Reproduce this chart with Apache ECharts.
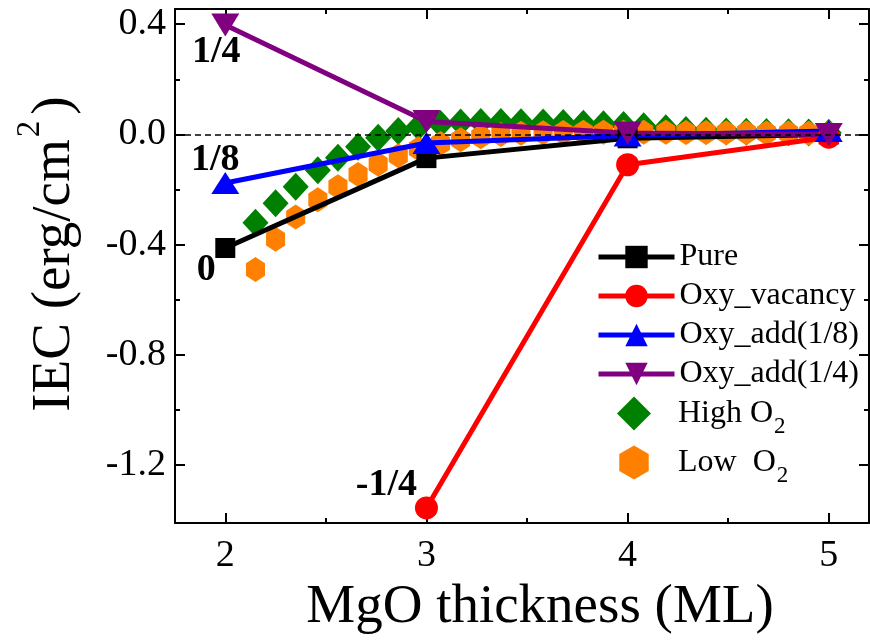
<!DOCTYPE html>
<html><head><meta charset="utf-8">
<script src="https://cdn.jsdelivr.net/npm/echarts@6/dist/echarts.min.js"></script>
<style>html,body{margin:0;padding:0;background:#fff}#c{width:870px;height:640px}</style>
</head><body><div id="c"></div>
<script>
// ---- data ----
const thickness = [2, 3, 4, 5];
const pure = [-0.412, -0.086, -0.014, 0.0];
const vacancyX = [3, 4, 5];
const vacancy = [-1.355, -0.110, -0.010];
const add18 = [-0.176, -0.031, -0.004, 0.012];
const add14 = [0.397, 0.047, 0.005, 0.0];
const scatterX = [2.15, 2.25, 2.35, 2.46, 2.56, 2.66, 2.76, 2.86, 2.96, 3.07, 3.17, 3.27, 3.37, 3.47, 3.58,
  3.68, 3.78, 3.88, 3.98, 4.08, 4.19, 4.29, 4.39, 4.49, 4.59, 4.69, 4.80, 4.90, 5.00];
const highO2 = [-0.32, -0.25, -0.19, -0.13, -0.085, -0.045, -0.012, 0.012, 0.028, 0.038, 0.043, 0.045, 0.045,
  0.044, 0.043, 0.041, 0.039, 0.037, 0.034, 0.030, 0.022, 0.016, 0.013, 0.011, 0.010, 0.009, 0.008, 0.007, 0.006];
const lowO2 = [-0.49, -0.38, -0.30, -0.237, -0.19, -0.145, -0.108, -0.077, -0.052, -0.033, -0.019, -0.008, 0.0,
  0.004, 0.006, 0.007, 0.008, 0.008, 0.008, 0.008, 0.008, 0.007, 0.007, 0.006, 0.006, 0.005, 0.005, 0.004, 0.004];
const xTicks = [2, 3, 4, 5];
const xMinorTicks = [2.5, 3.5, 4.5];
const yTicks = [-1.2, -0.8, -0.4, 0, 0.4];
const yMinorTicks = [-1.0, -0.6, -0.2, 0.2];
const seriesNames = ['Pure', 'Oxy_vacancy', 'Oxy_add(1/8)', 'Oxy_add(1/4)', 'High O2', 'Low O2'];
const pointLabels = { pure: '0', vacancy: '-1/4', add18: '1/8', add14: '1/4' };

// ---- chart ----
const FF = 'Liberation Serif';
const chart = echarts.init(document.getElementById('c'), null, { renderer: 'canvas' });
const X_MIN = 1.75, X_MAX = 5.2, Y_MIN = -1.41, Y_MAX = 0.455;
const lineCol = '#000';

function xAxis(pos, ticks, len, showLine, labels) {
  const a = {
    type: 'value', position: pos, min: X_MIN, max: X_MAX, gridIndex: 0,
    splitLine: { show: false },
    axisLine: { show: showLine, onZero: false, lineStyle: { color: lineCol, width: 2 } },
    axisTick: { show: true, inside: true, length: len, customValues: ticks, lineStyle: { color: lineCol, width: 2 } },
    axisLabel: { show: false }
  };
  if (labels) {
    a.axisLabel = { show: true, customValues: xTicks, fontFamily: FF, fontSize: 38, color: '#000', margin: 14 };
    a.name = 'MgO thickness (ML)';
    a.nameLocation = 'middle';
    a.nameGap = 54;
    a.nameTextStyle = { fontFamily: FF, fontSize: 55, color: '#000', padding: [0, 0, 0, 36] };
  }
  return a;
}
function yAxis(pos, ticks, len, showLine, labels) {
  const a = {
    type: 'value', position: pos, min: Y_MIN, max: Y_MAX, gridIndex: 0,
    splitLine: { show: false },
    axisLine: { show: showLine, onZero: false, lineStyle: { color: lineCol, width: 2 } },
    axisTick: { show: true, inside: true, length: len, customValues: ticks, lineStyle: { color: lineCol, width: 2 } },
    axisLabel: { show: false }
  };
  if (labels) {
    a.axisLabel = { show: true, customValues: yTicks, fontFamily: FF, fontSize: 38, color: '#000', margin: 9,
      formatter: v => v.toFixed(1) };
    a.name = '{a|IEC (erg/cm}{s|2}{a|)}';
    a.nameLocation = 'middle';
    a.nameRotate = 90;
    a.nameGap = 92;
    a.nameTextStyle = { padding: [0, 0, 0, 24], rich: {
      a: { fontFamily: FF, fontSize: 55, lineHeight: 55, color: '#000' },
      s: { fontFamily: FF, fontSize: 33, lineHeight: 33, color: '#000', padding: [0, 6, 48, 2] }
    } };
  }
  return a;
}

const labelStyle = { show: true, position: 'inside', fontFamily: FF, fontSize: 38, fontWeight: 'bold', color: '#000' };
function withLabel(xs, ys, idx, text, offset) {
  return xs.map((x, i) => i === idx
    ? { value: [x, ys[i]], label: Object.assign({}, labelStyle, { formatter: text, offset: offset }) }
    : [x, ys[i]]);
}
const hexPath = 'path://M0,-1L0.866,-0.5L0.866,0.5L0,1L-0.866,0.5L-0.866,-0.5Z';
const downTri = 'path://M0,0L2,0L1,1.64Z';

const option = {
  animation: false,
  backgroundColor: '#fff',
  grid: { left: 175, right: 1, top: 9, bottom: 116, containLabel: false },
  xAxis: [
    xAxis('bottom', xTicks, 10, true, true),
    xAxis('bottom', xMinorTicks, 5, false, false),
    xAxis('top', xTicks, 10, true, false),
    xAxis('top', xMinorTicks, 5, false, false)
  ],
  yAxis: [
    yAxis('left', yTicks, 10, true, true),
    yAxis('left', yMinorTicks, 5, false, false),
    yAxis('right', yTicks, 10, true, false),
    yAxis('right', yMinorTicks, 5, false, false)
  ],
  legend: [
    { data: seriesNames.slice(0, 4), orient: 'vertical', left: 596, top: 241, padding: 0,
      itemWidth: 76, itemHeight: 28, itemGap: 7,
      lineStyle: { width: 5 },
      textStyle: { fontFamily: FF, fontSize: 32, lineHeight: 32, color: '#000' } },
    { data: seriesNames.slice(4), orient: 'vertical', left: 617, top: 389, padding: 0,
      itemWidth: 34, itemHeight: 34, itemGap: 0,
      formatter: n => n === 'High O2' ? '{t|High O}{s|2}' : '{t|Low  O}{s|2}',
      textStyle: { color: '#000', rich: {
        t: { fontFamily: FF, fontSize: 32, lineHeight: 32, color: '#000', padding: [0, 0, 0, 22] },
        s: { fontFamily: FF, fontSize: 23, lineHeight: 23, color: '#000', padding: [26, 0, 0, 1] }
      } } }
  ],
  series: [
    { name: seriesNames[4], type: 'scatter', data: scatterX.map((x, i) => [x, highO2[i]]),
      symbol: 'diamond', symbolSize: [26, 28], symbolKeepAspect: true, itemStyle: { color: '#008000', opacity: 1 } },
    { name: seriesNames[5], type: 'scatter', data: scatterX.map((x, i) => [x, lowO2[i]]),
      symbol: hexPath, symbolSize: [22, 25], symbolKeepAspect: true, itemStyle: { color: '#ff8000', opacity: 1 } },
    { name: seriesNames[0], type: 'line', data: withLabel(thickness, pure, 0, pointLabels.pure, [-19, 22]),
      symbol: 'rect', symbolSize: 20, showSymbol: true,
      lineStyle: { width: 5, color: '#000' }, itemStyle: { color: '#000' } },
    { name: seriesNames[1], type: 'line', data: withLabel(vacancyX, vacancy, 0, pointLabels.vacancy, [-40, -23]),
      symbol: 'circle', symbolSize: 23,
      lineStyle: { width: 5, color: '#ff0000' }, itemStyle: { color: '#ff0000' } },
    { name: seriesNames[2], type: 'line', data: withLabel(thickness, add18, 0, pointLabels.add18, [-10, -23]),
      symbol: 'triangle', symbolSize: [28, 22],
      lineStyle: { width: 5, color: '#0000ff' }, itemStyle: { color: '#0000ff' } },
    { name: seriesNames[3], type: 'line', data: withLabel(thickness, add14, 0, pointLabels.add14, [-9, 27]),
      symbol: downTri, symbolSize: [28, 23],
      lineStyle: { width: 5, color: '#800080' }, itemStyle: { color: '#800080' },
      markLine: { silent: true, symbol: 'none', label: { show: false },
        lineStyle: { color: '#000', width: 1.5, type: [6, 4] }, data: [{ yAxis: 0 }] } }
  ]
};
chart.setOption(option);
</script></body></html>
